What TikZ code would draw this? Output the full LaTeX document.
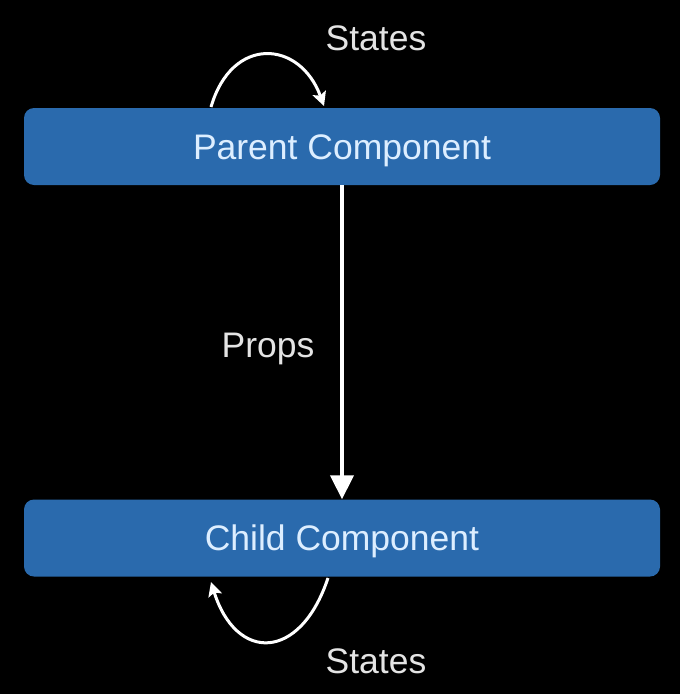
\documentclass[tikz,border=0pt]{standalone}
\usepackage{fontspec}
\setmainfont{Liberation Sans}
\usetikzlibrary{arrows.meta}
\definecolor{boxblue}{HTML}{2A6AAD}
\definecolor{boxtext}{HTML}{DDEEFF}
\definecolor{labeltext}{HTML}{E4E4E4}
\tikzset{
  compbox/.style={fill=boxblue, rounded corners=10pt, minimum width=636pt, minimum height=77pt, inner sep=0pt, text height=25pt, text depth=0pt, text=boxtext, font=\fontsize{35.5}{38}\selectfont},
  lbl/.style={text=labeltext, font=\fontsize{35.5}{38}\selectfont, inner sep=0pt, text height=25pt, text depth=0pt},
  flow/.style={draw=white, line width=4pt, -{Triangle[width=23pt,length=24pt]}},
  loop/.style={draw=white, line width=3pt, -{Stealth[width=14pt,length=14pt,inset=3pt]}}
}
\begin{document}
\begin{tikzpicture}[x=1pt,y=-1pt]
\fill[black] (0,0) rectangle (680,694);
\useasboundingbox (0,0) rectangle (680,694);
\node[compbox] (parent) at (342,146.5) {Parent Component};
\node[compbox] (child) at (342,538) {Child Component};
\node[lbl] (st1) at (376,37.5) {States};
\node[lbl] (st2) at (376,660.5) {States};
\node[lbl] (props) at (268,345) {Props};
\coordinate (pa) at (211,107);
\coordinate (pb) at (324,106);
\coordinate (ca) at (328,578);
\coordinate (cb) at (211,582);
\draw[loop] (pa) .. controls (232,35) and (300,40) .. (pb);
\draw[loop] (ca) .. controls (300,662) and (236,662) .. (cb);
\draw[flow] (parent.south -| 342,0) -- (child.north -| 342,0);
\end{tikzpicture}
\end{document}
